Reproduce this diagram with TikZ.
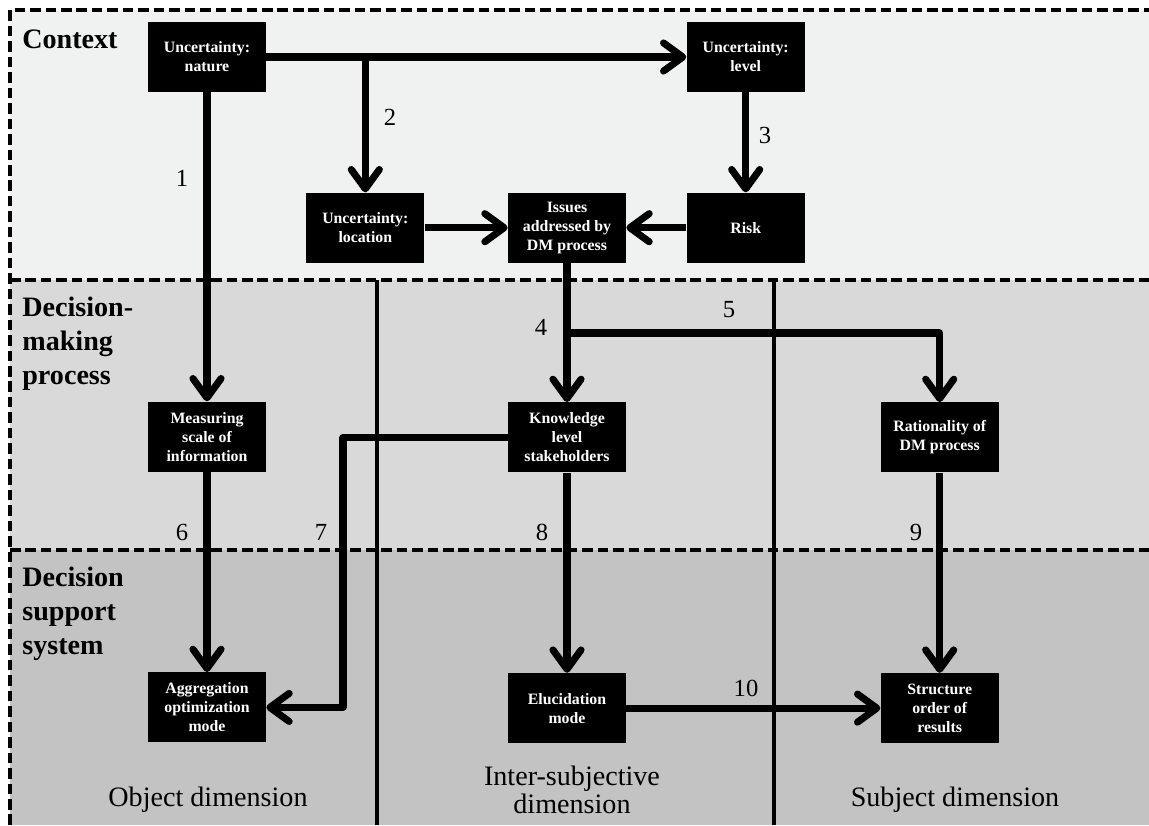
\documentclass[tikz,border=0pt]{standalone}
\usepackage{fontspec}
\setmainfont{Liberation Serif}
\usepackage{tikz}
\usetikzlibrary{positioning}
\usetikzlibrary{arrows.meta}

\definecolor{ctxgray}{HTML}{F0F1F1}
\definecolor{dmgray}{HTML}{D9D9D9}
\definecolor{dssgray}{HTML}{C3C3C3}

\begin{document}
\begin{tikzpicture}[
    box/.style={fill=black, text=white, align=center,
      font=\fontsize{9}{10.8}\selectfont\bfseries,
      minimum width=2.36cm, minimum height=1.4cm, inner sep=1pt},
    link/.style={line width=4pt, line join=round,
      -{Straight Barb[length=11pt,width=16pt,round]}},
    num/.style={font=\fontsize{14}{16}\selectfont},
    bandlabel/.style={font=\fontsize{16}{19.3}\selectfont\bfseries,
      align=left, inner sep=0pt},
    dimlabel/.style={font=\fontsize{16}{16}\selectfont, align=center, inner sep=0pt},
    sep/.style={line width=1.8pt, dash pattern=on 6pt off 2.8pt},
  ]
  \useasboundingbox (0,0) rectangle (22.98,-16.5);

  % Fasce di sfondo
  \fill[ctxgray] (0.2,-0.2) rectangle (22.98,-5.6);
  \fill[dmgray] (0.2,-5.6) rectangle (22.98,-11.0);
  \fill[dssgray] (0.2,-11.0) rectangle (22.98,-16.5);
  \draw[sep] (0.2,-16.5) -- (0.2,-0.2) -- (22.98,-0.2);
  \draw[sep] (0.2,-5.6) -- (22.98,-5.6);
  \draw[sep] (0.2,-11.0) -- (22.98,-11.0);
  \draw[line width=1.9pt] (7.54,-5.6) -- (7.54,-16.5);
  \draw[line width=1.9pt] (15.48,-5.6) -- (15.48,-16.5);

  \node[bandlabel, anchor=base west] (ctx) at (0.44,-0.96) {Context};
  \node[bandlabel, anchor=north west] (dmp) at (0.44,-5.94) {Decision-\\making\\process};
  \node[bandlabel, anchor=north west] (dss) at (0.44,-11.34) {Decision\\support\\system};

  % Blocchi
  \node[box] (nat) at (4.14,-1.14) {Uncertainty:\\nature};
  \node[box, right=8.4cm of nat] (lev) {Uncertainty:\\level};
  \node[box, below=2.0cm of lev] (risk) {Risk};
  \node[box, left=1.2cm of risk] (iss) {Issues\\addressed by\\DM process};
  \node[box, left=1.66cm of iss] (loc) {Uncertainty:\\location};
  \node[box, below=6.18cm of nat] (meas) {Measuring\\scale of\\information};
  \node[box, below=2.78cm of iss] (know) {Knowledge\\level\\stakeholders};
  \node[box, right=5.08cm of know] (rat) {Rationality of\\DM process};
  \node[box, below=4.0cm of meas] (aggr) {Aggregation\\optimization\\mode};
  \node[box, below=4.0cm of know] (eluc) {Elucidation\\mode};
  \node[box, below=4.0cm of rat] (struc) {Structure\\order of\\results};

  \coordinate (split5) at (11.34,-6.66);
  \coordinate (kink7) at (6.86,0);

  % Frecce
  \draw[link] (nat.east) -- (lev.west);
  \draw[link] (loc.north |- nat.east) -- (loc.north);
  \draw[link] (lev.south) -- (risk.north);
  \draw[link] (loc.east) -- (iss.west);
  \draw[link] (risk.west) -- (iss.east);
  \draw[link] (nat.south) -- (meas.north);
  \draw[link] (iss.south) -- (know.north);
  \draw[link] (split5) -| (rat.north);
  \draw[link] (meas.south) -- (aggr.north);
  \draw[link] (know.west) -- (know.west -| kink7) -- (aggr.east -| kink7) -- (aggr.east);
  \draw[link] (know.south) -- (eluc.north);
  \draw[link] (rat.south) -- (struc.north);
  \draw[link] (eluc.east) -- (struc.west);

  % Numeri
  \node[num] (l1) at (3.64,-3.56) {1};
  \node[num] (l2) at (7.8,-2.34) {2};
  \node[num] (l3) at (15.3,-2.7) {3};
  \node[num] (l4) at (10.82,-6.54) {4};
  \node[num] (l5) at (14.58,-6.2) {5};
  \node[num] (l6) at (3.64,-10.64) {6};
  \node[num] (l7) at (6.42,-10.64) {7};
  \node[num] (l8) at (10.84,-10.64) {8};
  \node[num] (l9) at (18.32,-10.64) {9};
  \node[num] (l10) at (14.92,-13.76) {10};

  % Dimensioni
  \node[dimlabel] (objdim) at (4.16,-16.0) {Object dimension};
  \node[dimlabel] (interdim) at (11.44,-15.8) {Inter-subjective\\dimension};
  \node[dimlabel] (subjdim) at (19.1,-16.0) {Subject dimension};
\end{tikzpicture}
\end{document}
